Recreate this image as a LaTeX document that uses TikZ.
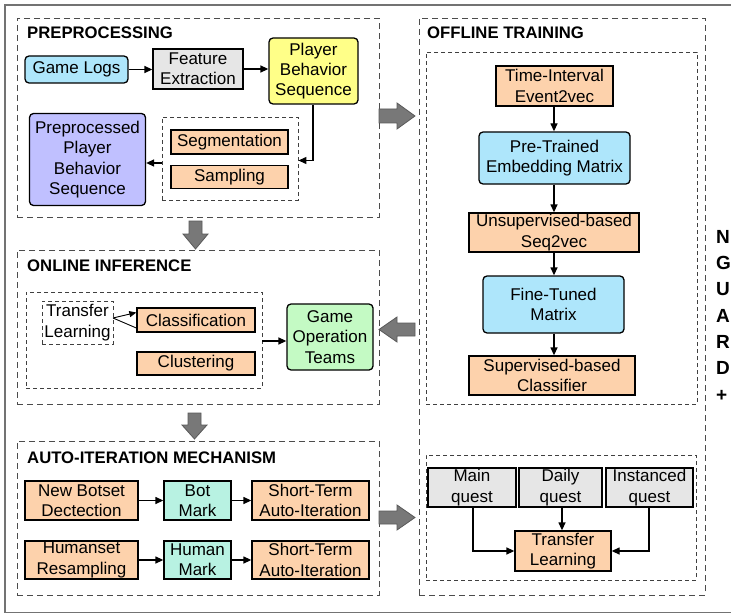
\documentclass[tikz,border=0pt]{standalone}
\usepackage{fontspec}
\setmainfont{Liberation Sans}
\usetikzlibrary{arrows.meta}
\definecolor{cblue}{HTML}{AEE6FB}
\definecolor{cgray}{HTML}{E6E6E6}
\definecolor{cyellow}{HTML}{FFFF88}
\definecolor{cpurple}{HTML}{C0C0FF}
\definecolor{corange}{HTML}{FDD2AC}
\definecolor{cgreen}{HTML}{C4FAC4}
\definecolor{cmint}{HTML}{B8F2E2}
\definecolor{cbig}{HTML}{787878}
\begin{document}
\begin{tikzpicture}[x=1pt,y=-1pt,
  txt/.style={font=\fontsize{17}{20.3}\selectfont, align=center, inner sep=0pt},
  box/.style={txt, draw=black, line width=1.3pt},
  rbox/.style={box, rounded corners=4pt},
  grp/.style={draw=black!70, dashed, dash pattern=on 6pt off 4pt, line width=0.9pt, inner sep=0pt},
  igrp/.style={draw=black!75, dash pattern=on 4pt off 3pt, line width=0.9pt, inner sep=0pt},
  ttl/.style={font=\fontsize{16.7}{20}\selectfont\bfseries, anchor=base west, inner sep=0pt},
  side/.style={font=\fontsize{19}{20}\selectfont\bfseries, anchor=base west, inner sep=0pt},
  arr/.style={-{Triangle[length=8pt,width=7pt]}, line width=1.3pt, black},
  big/.style={fill=cbig, draw=black!65, line width=0.8pt}
]
\useasboundingbox (0,0) rectangle (731,615);
\clip (0,0) rectangle (731,615);
\fill[white] (0,0) rectangle (731,615);
\draw[black!55, line width=1.5pt] (5,5) rectangle (760,612.5);

% ---------- groups ----------
\node[grp, minimum width=362pt, minimum height=199pt] (gpre) at (198,117.5) {};
\node[grp, minimum width=362pt, minimum height=154pt] (gon) at (198,327) {};
\node[grp, minimum width=362pt, minimum height=154pt] (gauto) at (198,518) {};
\node[grp, minimum width=286pt, minimum height=577pt] (goff) at (562,306.5) {};
\node[ttl] (tpre) at (27,38.5) {PREPROCESSING};
\node[ttl] (ton) at (27,271.7) {ONLINE INFERENCE};
\node[ttl] (tauto) at (27,463.3) {AUTO-ITERATION MECHANISM};
\node[ttl] (toff) at (427,38.5) {OFFLINE TRAINING};

% ---------- preprocessing ----------
\node[rbox, fill=cblue, minimum width=103pt, minimum height=27pt] (logs) at (76.5,69.5) {Game Logs};
\node[box, fill=cgray, minimum width=90pt, minimum height=40pt] (fe) at (198,69) {Feature\\Extraction};
\node[rbox, fill=cyellow, minimum width=89pt, minimum height=66pt] (pbs) at (313.5,71) {Player\\Behavior\\Sequence};
\node[rbox, fill=cpurple, minimum width=116pt, minimum height=92pt] (ppbs) at (87.5,159.5) {Preprocessed\\Player\\Behavior\\Sequence};
\node[igrp, minimum width=136pt, minimum height=83pt] (gss) at (230,158.5) {};
\node[box, fill=corange, minimum width=117pt, minimum height=24pt] (seg) at (229.5,142) {Segmentation};
\node[box, fill=corange, minimum width=117pt, minimum height=23pt] (samp) at (229.5,177) {Sampling};
\coordinate (pbsturn) at (313,160.5);
\draw[arr] (logs.east) -- (fe.west |- logs.east);
\draw[arr] (fe.east) -- (pbs.west |- fe.east);
\draw[arr] (pbs.south -| pbsturn) -- (pbsturn) -- (gss.east |- pbsturn);
\draw[arr] (gss.west |- 0,163) -- (ppbs.east |- 0,163);

% ---------- online inference ----------
\node[igrp, minimum width=236pt, minimum height=96pt] (gcl) at (144,340) {};
\node[txt, igrp, minimum width=71pt, minimum height=43pt] (tl1) at (77.5,322.5) {Transfer\\Learning};
\node[box, fill=corange, minimum width=118pt, minimum height=24pt] (cls) at (196,320) {Classification};
\node[box, fill=corange, minimum width=118pt, minimum height=23pt] (clu) at (196,363.5) {Clustering};
\node[rbox, fill=cgreen, minimum width=86pt, minimum height=66pt] (got) at (330,337) {Game\\Operation\\Teams};
\coordinate (tlp) at (113,318);
\draw[-{Triangle[length=7pt,width=6pt]}, line width=0.9pt] (tlp) -- (cls.west |- 0,312.5);
\draw[line width=0.9pt] (tlp) -- (cls.west |- 0,328);
\draw[arr] (gcl.east |- 0,341) -- (got.west |- 0,341);

% ---------- auto-iteration ----------
\node[box, fill=corange, minimum width=113pt, minimum height=39pt] (nbd) at (81.5,500.5) {New Botset\\Dectection};
\node[box, fill=cmint, minimum width=67pt, minimum height=39pt] (bm) at (197.5,500.5) {Bot\\Mark};
\node[box, fill=corange, minimum width=117pt, minimum height=39pt] (st1) at (310.5,500.5) {Short-Term\\Auto-Iteration};
\node[box, fill=corange, minimum width=113pt, minimum height=38pt] (hr) at (81.5,560) {Humanset\\Resampling};
\node[box, fill=cmint, minimum width=67pt, minimum height=38pt] (hm) at (197.5,560) {Human\\Mark};
\node[box, fill=corange, minimum width=117pt, minimum height=38pt] (st2) at (310.5,560) {Short-Term\\Auto-Iteration};
\draw[arr] (nbd) -- (bm);
\draw[arr] (bm) -- (st1);
\draw[arr] (hr) -- (hm);
\draw[arr] (hm) -- (st2);

% ---------- offline training ----------
\node[igrp, minimum width=271pt, minimum height=352pt] (gtr) at (561.5,228) {};
\node[box, fill=corange, minimum width=117pt, minimum height=40pt] (tie) at (554.5,86) {Time-Interval\\Event2vec};
\node[rbox, fill=cblue, minimum width=151pt, minimum height=52pt] (pte) at (554.5,158) {Pre-Trained\\Embedding Matrix};
\node[box, fill=corange, minimum width=170pt, minimum height=39pt] (uns) at (554,232.5) {Unsupervised-based\\Seq2vec};
\node[rbox, fill=cblue, minimum width=141pt, minimum height=57pt] (ftm) at (553.5,304.5) {Fine-Tuned\\Matrix};
\node[box, fill=corange, minimum width=166pt, minimum height=39pt] (sup) at (552,375.5) {Supervised-based\\Classifier};
\draw[arr] (tie.south -| 554,0) -- (pte.north -| 554,0);
\draw[arr] (pte.south -| 554,0) -- (uns.north -| 554,0);
\draw[arr] (uns.south -| 554,0) -- (ftm.north -| 554,0);
\draw[arr] (ftm.south -| 554,0) -- (sup.north -| 554,0);

\node[igrp, minimum width=270pt, minimum height=125pt] (gq) at (561,517.5) {};
\node[box, fill=cgray, minimum width=88pt, minimum height=39pt] (mq) at (472,487.5) {Main\\quest};
\node[box, fill=cgray, minimum width=83pt, minimum height=39pt] (dq) at (560.5,487.5) {Daily\\quest};
\node[box, fill=cgray, minimum width=87pt, minimum height=39pt] (iq) at (649.5,487.5) {Instanced\\quest};
\node[box, fill=corange, minimum width=96pt, minimum height=40pt] (tl2) at (563,551) {Transfer\\Learning};
\draw[arr] (mq.south -| 473,0) |- (tl2.west);
\draw[arr] (dq.south -| 562,0) -- (tl2.north -| 562,0);
\draw[arr] (iq.south -| 649,0) |- (tl2.east);

% ---------- big arrows ----------
\draw[big] (379,109) -- (397,109) -- (397,103) -- (415,116) -- (397,129) -- (397,123) -- (379,123) -- cycle;
\draw[big] (415,323) -- (397,323) -- (397,317) -- (379,329.5) -- (397,342) -- (397,336) -- (415,336) -- cycle;
\draw[big] (379,511) -- (397,511) -- (397,505) -- (415,517.5) -- (397,530) -- (397,524) -- (379,524) -- cycle;
\draw[big] (189,221) -- (202,221) -- (202,234) -- (208,234) -- (195.5,249) -- (183,234) -- (189,234) -- cycle;
\draw[big] (188,413) -- (201,413) -- (201,425) -- (207,425) -- (194.5,439) -- (182,425) -- (188,425) -- cycle;

% ---------- side label ----------
\foreach \l/\yy [count=\i] in {N/243.3,G/269.6,U/295.9,A/322.2,R/348.5,D/374.8,+/401.1}
  \node[side] (side\i) at (716,\yy) {\l};
\end{tikzpicture}
\end{document}
